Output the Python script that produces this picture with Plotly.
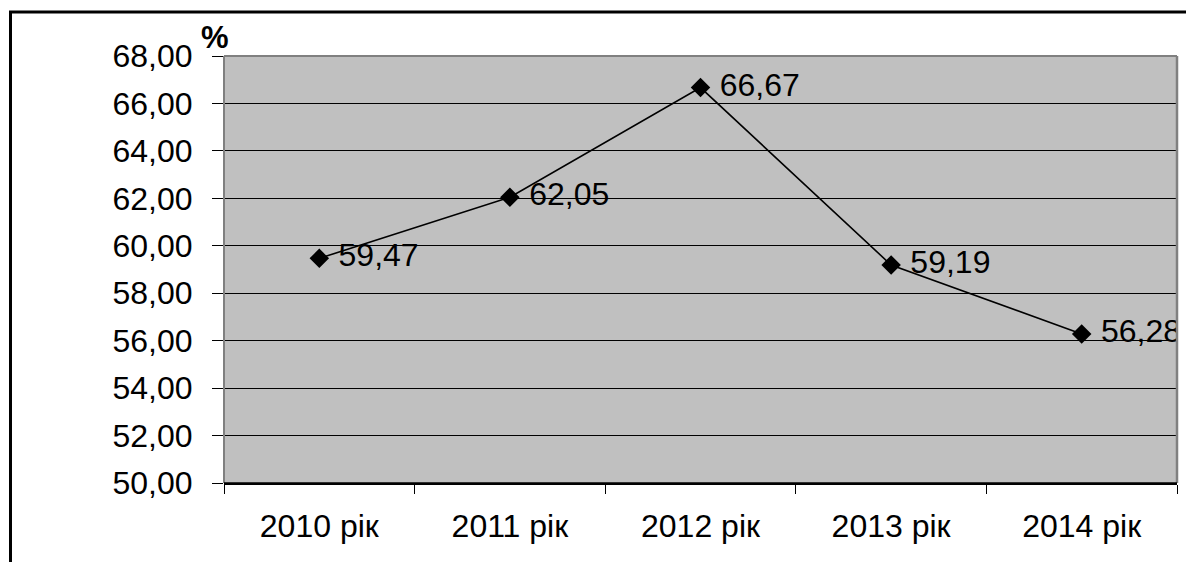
import plotly.graph_objects as go

categories = ["2010 рік", "2011 рік", "2012 рік", "2013 рік", "2014 рік"]
values = [59.47, 62.05, 66.67, 59.19, 56.28]
y_ticks = [50, 52, 54, 56, 58, 60, 62, 64, 66, 68]
unit_label = "%"

W, H = 1186, 562
L, R, T, B = 224, 1177, 56, 483

FONT = "Liberation Sans, Arial, sans-serif"
FS = 32

fig = go.Figure()
fig.add_trace(go.Scatter(
    x=categories, y=values,
    mode="lines+markers+text",
    line=dict(color="black", width=1.6),
    marker=dict(symbol="diamond", size=15, color="black"),
    text=values,
    texttemplate=" %{y:.2f}",
    textposition="middle right",
    textfont=dict(family=FONT, size=FS, color="black"),
    cliponaxis=True,
    showlegend=False,
))

px_x = lambda p: (p - L) / (R - L)
px_y = lambda p: (B - p) / (B - T)

fig.update_layout(
    width=W, height=H,
    margin=dict(l=L, r=W - R, t=T, b=H - B, pad=0),
    paper_bgcolor="white",
    plot_bgcolor="#C0C0C0",
    separators=", ",
    font=dict(family=FONT, size=FS, color="black"),
    xaxis=dict(
        type="category",
        tickson="boundaries",
        ticks="outside", ticklen=9, tickwidth=1, tickcolor="black",
        showline=True, linecolor="black", linewidth=1.5,
        showgrid=False,
        ticklabelstandoff=14,
        tickfont=dict(family=FONT, size=FS),
        range=[-0.5, 4.5],
    ),
    yaxis=dict(
        range=[50, 68],
        tickvals=y_ticks,
        tickformat=".2f",
        ticks="outside", ticklen=11, tickwidth=1, tickcolor="black",
        showline=False,
        showgrid=True, gridcolor="black", gridwidth=1,
        zeroline=False,
        ticklabelstandoff=13,
        tickfont=dict(family=FONT, size=FS),
    ),
    shapes=[
        # outer chart frame: left and top edges
        dict(type="line", xref="paper", yref="paper",
             x0=px_x(10.5), x1=px_x(10.5), y0=px_y(562), y1=px_y(12),
             line=dict(color="black", width=3)),
        dict(type="line", xref="paper", yref="paper",
             x0=px_x(9), x1=px_x(1186), y0=px_y(12), y1=px_y(12),
             line=dict(color="black", width=3)),
        # plot area border (gray, left/top/right)
        dict(type="line", xref="paper", yref="paper",
             x0=0, x1=1, y0=1, y1=1,
             line=dict(color="#808080", width=2)),
        dict(type="line", xref="paper", yref="paper",
             x0=0, x1=0, y0=0, y1=1,
             line=dict(color="#808080", width=2)),
        dict(type="line", xref="paper", yref="paper",
             x0=1, x1=1, y0=0, y1=1,
             line=dict(color="#808080", width=2.5)),
        # bottom axis line redraw
        dict(type="line", xref="paper", yref="paper",
             x0=0, x1=1, y0=0, y1=0,
             line=dict(color="black", width=1.5)),
    ],
    annotations=[
        dict(text="<b>" + unit_label + "</b>", xref="paper", yref="paper",
             x=px_x(215), y=px_y(38), showarrow=False,
             xanchor="center", yanchor="middle",
             font=dict(family=FONT, size=31, color="black")),
    ],
)

fig.write_html("out.html", config={"displayModeBar": False})
